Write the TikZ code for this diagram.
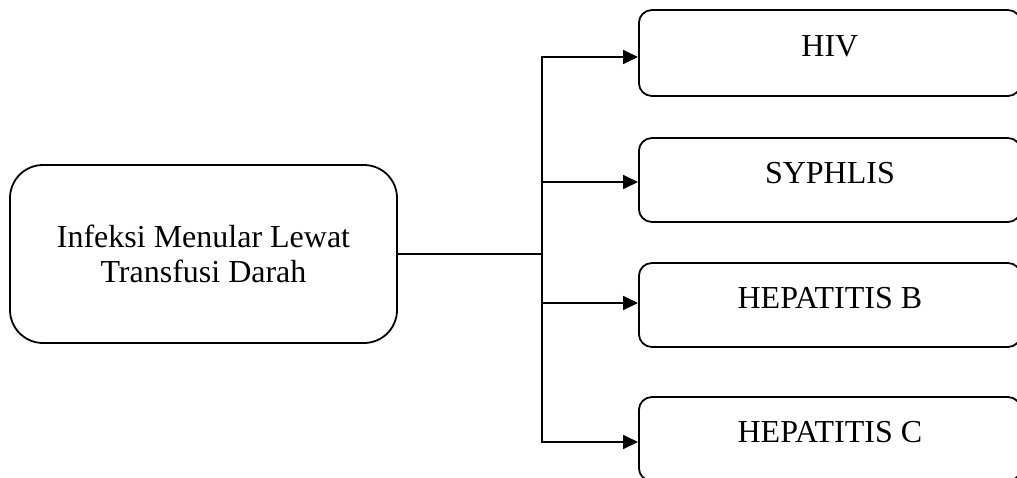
\documentclass[tikz,border=0pt]{standalone}
\usepackage{fontspec}
\setmainfont{Liberation Serif}
\usetikzlibrary{arrows.meta}
\begin{document}
\begin{tikzpicture}[x=1pt,y=-1pt,
  box/.style={draw,line width=1.8pt,rounded corners=13pt,minimum width=382pt,minimum height=84pt,inner sep=0pt,font=\fontsize{32}{35}\selectfont,text height=22pt,text depth=16pt,anchor=west},
  srcbox/.style={draw,line width=1.8pt,rounded corners=33pt,minimum width=387pt,minimum height=178pt,inner sep=0pt,align=center,font=\fontsize{32}{35}\selectfont},
  conn/.style={line width=1.8pt},
  arr/.style={conn,-{Triangle[length=15pt,width=14pt]}}]
\useasboundingbox (0,0) rectangle (1017,477);
\clip (0,0) rectangle (1017,477);
\node[srcbox] (src) at (203.5,254) {Infeksi Menular Lewat\\Transfusi Darah};
\node[box,minimum height=86pt] (hiv) at (638,53) {HIV};
\node[box] (syp) at (638,180) {SYPHLIS};
\node[box] (hepb) at (638,305) {HEPATITIS B};
\node[box] (hepc) at (638,439) {HEPATITIS C};
\coordinate (j) at (542,255);
\coordinate (hivin) at ([yshift=-4pt]hiv.west);
\coordinate (sypin) at ([yshift=-2pt]syp.west);
\coordinate (hepbin) at ([yshift=2pt]hepb.west);
\coordinate (hepcin) at ([yshift=-3pt]hepc.west);
\draw[conn] (src.east) -- (src.east -| j);
\draw[arr] (j) -- (j |- hivin) -- (hivin);
\draw[arr] (j |- sypin) -- (sypin);
\draw[arr] (j |- hepbin) -- (hepbin);
\draw[arr] (j) -- (j |- hepcin) -- (hepcin);
\end{tikzpicture}
\end{document}
